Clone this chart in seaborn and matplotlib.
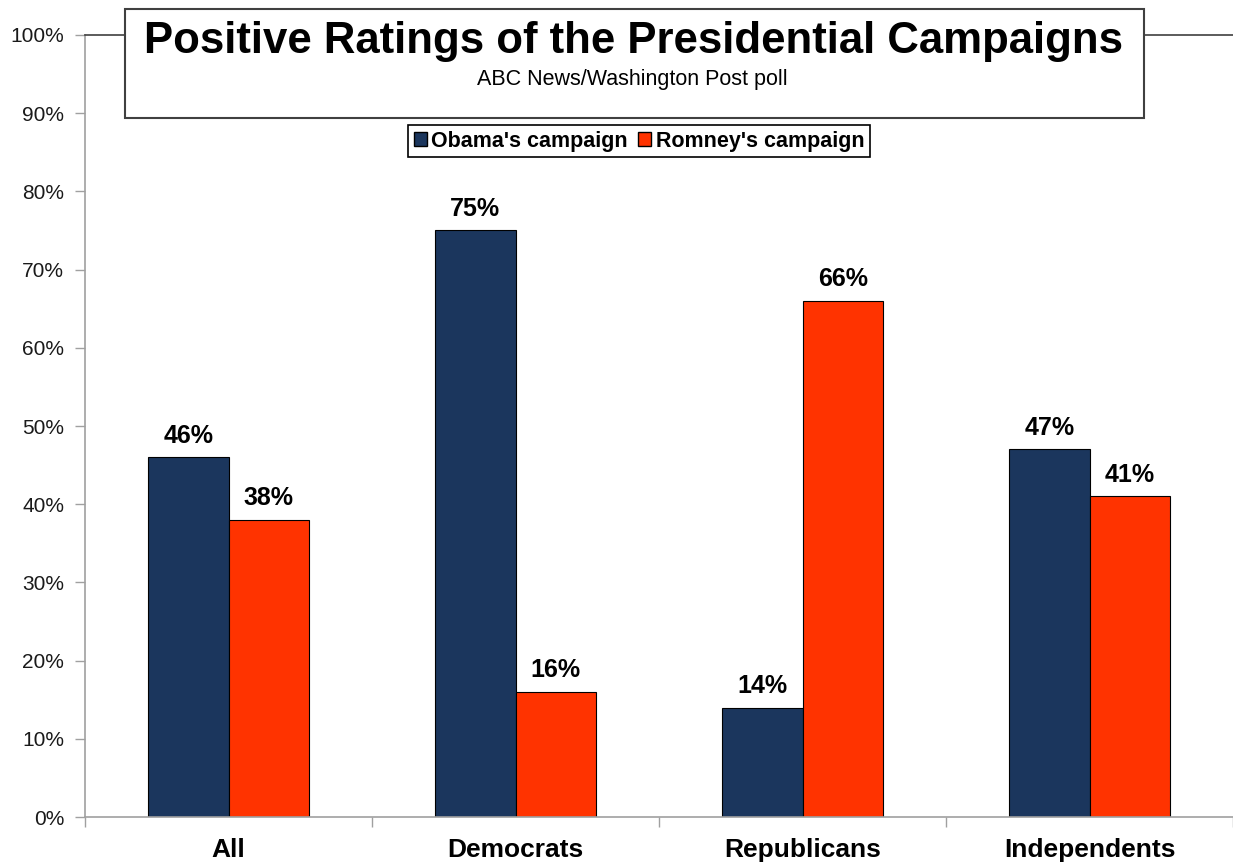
import pandas as pd
import numpy as np
import matplotlib
matplotlib.use('Agg')
import matplotlib.pyplot as plt
from matplotlib.patches import Rectangle, Patch
import seaborn as sns

sns.set_style('ticks')
plt.rcParams['font.family'] = ['Liberation Sans', 'DejaVu Sans']
plt.rcParams['text.color'] = 'black'

# data
groups = ['All', 'Democrats', 'Republicans', 'Independents']
campaigns = ["Obama's campaign", "Romney's campaign"]
obama = [46, 75, 14, 47]
romney = [38, 16, 66, 41]

paleta = ['#1b365d', '#ff3300']

df = pd.DataFrame({
    'group': groups * 2,
    'campaign': [campaigns[0]] * 4 + [campaigns[1]] * 4,
    'value': obama + romney,
})

fig = plt.figure(figsize=(12.33, 8.63), dpi=100)
ax = fig.add_axes([85 / 1233, 1 - 817 / 863, 1 - 85 / 1233, (817 - 35) / 863])

sns.barplot(
    data=df, x='group', y='value', hue='campaign',
    palette=paleta, saturation=1, width=0.56,
    edgecolor='black', linewidth=0.8, legend=False, ax=ax,
)

for cont in ax.containers:
    ax.bar_label(cont, fmt='%d%%', padding=7, fontsize=18, fontweight='bold', color='black')

ax.set_ylim(0, 100)
ax.set_xlim(-0.5, 3.5)
ax.set_yticks(np.arange(0, 101, 10))
ax.set_yticklabels([f'{v}%' for v in range(0, 101, 10)], fontsize=15)
ax.tick_params(axis='y', length=7, width=1, color='#a0a0a0', labelcolor='#1a1a1a', pad=8)
ax.set_xticks(range(4))
ax.set_xticklabels(groups, fontsize=19, fontweight='bold')
ax.tick_params(axis='x', which='major', length=0, pad=15, labelcolor='black')
ax.set_xticks([-0.5, 0.5, 1.5, 2.5, 3.5], minor=True)
ax.tick_params(axis='x', which='minor', length=7, width=1, color='#a0a0a0')
ax.set_xlabel('')
ax.set_ylabel('')

ax.spines['right'].set_visible(False)
ax.spines['left'].set_color('#a0a0a0')
ax.spines['bottom'].set_color('#a0a0a0')
ax.spines['top'].set_color('#404040')
for s in ['left', 'bottom', 'top']:
    ax.spines[s].set_linewidth(1.2)

# title box
W, H = 1233, 863
box = Rectangle((125 / W, 1 - 118 / H), (1144 - 125) / W, (118 - 9) / H,
                transform=fig.transFigure, facecolor='white', edgecolor='#404040',
                linewidth=1.5, zorder=3)
fig.add_artist(box)
fig.text(633 / W, 1 - 42 / H, 'Positive Ratings of the Presidential Campaigns',
         ha='center', va='center', fontsize=31.5, fontweight='bold', color='black', zorder=4)
fig.text(632 / W, 1 - 79 / H, 'ABC News/Washington Post poll',
         ha='center', va='center', fontsize=15.5, color='black', zorder=4)

handles = [Patch(facecolor=c, edgecolor='black', linewidth=1) for c in paleta]
leg = fig.legend(handles, campaigns, loc='center', bbox_to_anchor=(639 / W, 1 - 141 / H),
                 ncol=2, frameon=True, fancybox=False, framealpha=1, edgecolor='black',
                 prop={'weight': 'bold', 'size': 15.5}, handlelength=0.6, handleheight=0.6,
                 handletextpad=0.2, columnspacing=0.5, borderpad=0.25, borderaxespad=0)
leg.get_frame().set_linewidth(1.2)
leg.set_zorder(5)
for t in leg.get_texts():
    t.set_color('black')

fig.savefig('out.png', dpi=100)
